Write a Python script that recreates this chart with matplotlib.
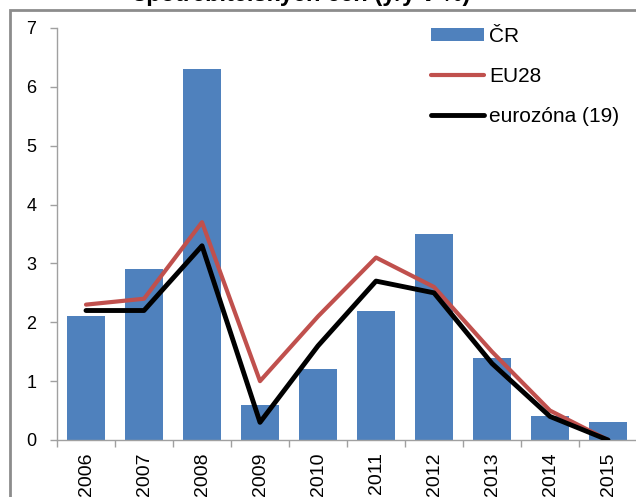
import numpy as np
import matplotlib
matplotlib.use("Agg")
import matplotlib.pyplot as plt
from matplotlib.patches import Rectangle

plt.rcParams['font.family'] = ['Liberation Sans', 'DejaVu Sans']

# data
years = ['2006', '2007', '2008', '2009', '2010', '2011', '2012', '2013', '2014', '2015']
cr = [2.1, 2.9, 6.3, 0.6, 1.2, 2.2, 3.5, 1.4, 0.4, 0.3]
eu28 = [2.3, 2.4, 3.7, 1.0, 2.1, 3.1, 2.6, 1.5, 0.5, 0.0]
eurozone = [2.2, 2.2, 3.3, 0.3, 1.6, 2.7, 2.5, 1.3, 0.4, 0.0]

W, H = 636, 497
fig = plt.figure(figsize=(W / 100, H / 100), dpi=100)

# gray outer frame of the chart area (runs past the right and bottom edges)
fig.patches.append(Rectangle((10 / W, -0.1), 1.2, 1.1 - 10 / H, transform=fig.transFigure,
                             fill=False, edgecolor='#8c8c8c', linewidth=2))

# title, mostly cut off at the top
fig.text(302 / W, 1 - 1 / H, 'spotřebitelských cen (y/y v %)', ha='center', va='baseline',
         fontsize=17, fontweight='bold')

ax = fig.add_axes([57 / W, 1 - 440 / H, 580 / W, 412 / H])
x = np.arange(len(years))

bars = ax.bar(x, cr, width=0.66, color='#4F81BD', zorder=2)
l1, = ax.plot(x, eu28, color='#C0504D', linewidth=3.0, zorder=3, solid_capstyle='round')
l2, = ax.plot(x, eurozone, color='black', linewidth=3.5, zorder=4, solid_capstyle='round')

ax.set_xlim(-0.5, len(years) - 0.5)
ax.set_ylim(0, 7)
ax.set_yticks(range(0, 8))
ax.set_xticks(x)
ax.set_xticklabels(years, rotation=90)
ax.set_xticks(np.arange(-0.5, len(years)), minor=True)
ax.tick_params(axis='x', which='major', length=0, pad=9, labelsize=14)
ax.tick_params(axis='x', which='minor', length=5, color='#a0a0a0', width=1, direction='out')
ax.tick_params(axis='y', length=5, color='#a0a0a0', width=1, pad=10, labelsize=13)

for side in ['top', 'right']:
    ax.spines[side].set_visible(False)
for side in ['left', 'bottom']:
    ax.spines[side].set_color('#a0a0a0')
    ax.spines[side].set_linewidth(1)

ax.legend([bars, l1, l2], ['ČR', 'EU28', 'eurozóna (19)'],
          loc='upper left', bbox_to_anchor=(431 / W, 1 - 27 / H), bbox_transform=fig.transFigure,
          frameon=False, fontsize=15, handlelength=2.55, handletextpad=0.25, labelspacing=1.0,
          handleheight=0.55, borderaxespad=0, borderpad=0)

fig.savefig('out.png', dpi=100)
